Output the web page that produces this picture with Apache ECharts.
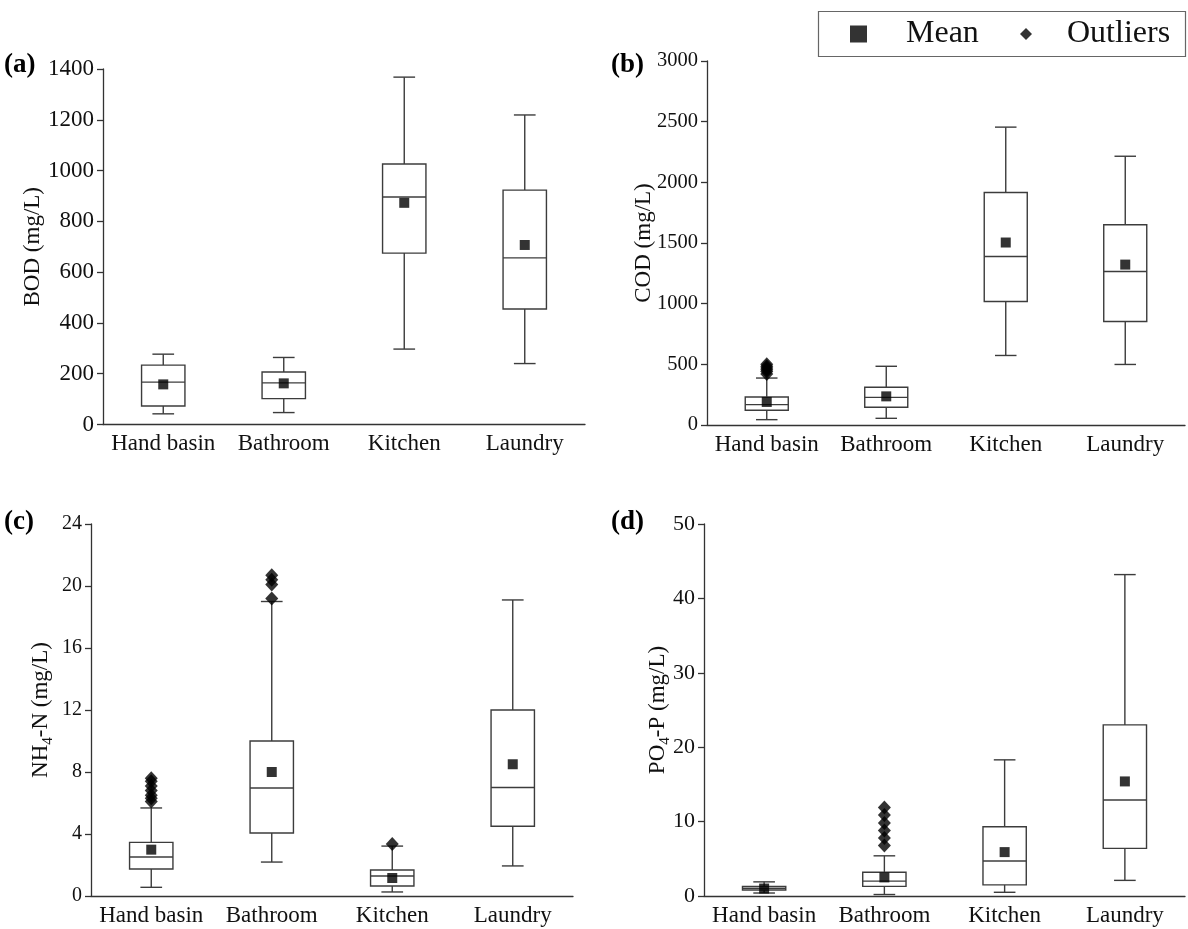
<!DOCTYPE html>
<html><head><meta charset="utf-8">
<script src="https://cdn.jsdelivr.net/npm/echarts@6/dist/echarts.min.js"></script>
<style>html,body{margin:0;padding:0;background:#fff}#c{width:1188px;height:929px}</style>
</head><body><div id="c"></div>
<script>
const categories = ['Hand basin', 'Bathroom', 'Kitchen', 'Laundry'];

// Box stats per category: [min, Q1, median, Q3, max]
const bodBox  = [[42, 73, 167, 234, 277], [47, 102, 164, 207, 264], [297, 675, 896, 1026, 1368], [240, 455, 656, 923, 1219]];
const bodMean = [158, 162, 873, 707];
const bodOut  = [[], [], [], []];

const codBox  = [[44, 121, 168, 231, 387], [55, 146, 228, 311, 484], [573, 1018, 1389, 1916, 2455], [499, 853, 1265, 1650, 2215]];
const codMean = [190, 236, 1504, 1322];
const codOut  = [[420, 440, 455, 470, 485, 500], [], [], []];

const nhBox   = [[0.56, 1.74, 2.52, 3.46, 5.68], [2.19, 4.06, 6.97, 10.0, 19.0], [0.26, 0.65, 1.29, 1.68, 3.22], [1.94, 4.5, 7.0, 12.0, 19.1]];
const nhMean  = [2.99, 8.0, 1.16, 8.5];
const nhOut   = [[6.1, 6.3, 6.5, 6.8, 7.1, 7.4, 7.6], [19.2, 20.1, 20.4, 20.7], [3.35], []];

const poBox   = [[0.4, 0.8, 1.05, 1.3, 1.9], [0.2, 1.3, 2.0, 3.2, 5.4], [0.5, 1.5, 4.7, 9.3, 18.3], [2.1, 6.4, 12.9, 23.0, 43.2]];
const poMean  = [1.0, 2.5, 5.9, 15.4];
const poOut   = [[], [6.8, 7.8, 8.8, 9.8, 10.9, 11.9], [], []];

const yMax      = [1400, 3000, 24, 50];
const yInterval = [200, 500, 4, 10];
const yNames    = ['BOD (mg/L)', 'COD (mg/L)', 'NH{s|4}-N (mg/L)', 'PO{s|4}-P (mg/L)'];
const panelTags = ['(a)', '(b)', '(c)', '(d)'];

const FONT = '"Liberation Serif", "Times New Roman", serif';
const AX = '#333';

const grids = [
  {left: 103, top: 69, width: 482, height: 355.5},
  {left: 707, top: 61, width: 478, height: 364},
  {left: 91,  top: 524, width: 482, height: 372},
  {left: 704, top: 524, width: 481, height: 372}
];
const nameGaps = [59, 52, 35, 31];
const yLabelSizes = [23, 20.5, 20, 22];
const tagPos = [{left: 4, top: 52}, {left: 611, top: 52}, {left: 4, top: 509}, {left: 611, top: 509}];

const boxes = [bodBox, codBox, nhBox, poBox];
const means = [bodMean, codMean, nhMean, poMean];
const outs  = [bodOut, codOut, nhOut, poOut];

function renderBox(params, api) {
  const x = api.value(0);
  const lo = api.coord([x, api.value(1)]);
  const q1 = api.coord([x, api.value(2)]);
  const md = api.coord([x, api.value(3)]);
  const q3 = api.coord([x, api.value(4)]);
  const hi = api.coord([x, api.value(5)]);
  const band = api.size([1, 0])[0];
  const bw = band * 0.36, cw = bw * 0.5;
  const cx = lo[0];
  const st = {stroke: '#3c3c3c', lineWidth: 1.4, fill: null};
  return {type: 'group', children: [
    {type: 'line', shape: {x1: cx, y1: hi[1], x2: cx, y2: q3[1]}, style: st},
    {type: 'line', shape: {x1: cx, y1: q1[1], x2: cx, y2: lo[1]}, style: st},
    {type: 'line', shape: {x1: cx - cw / 2, y1: hi[1], x2: cx + cw / 2, y2: hi[1]}, style: st},
    {type: 'line', shape: {x1: cx - cw / 2, y1: lo[1], x2: cx + cw / 2, y2: lo[1]}, style: st},
    {type: 'rect', shape: {x: cx - bw / 2, y: q3[1], width: bw, height: q1[1] - q3[1]}, style: {stroke: '#3c3c3c', lineWidth: 1.4, fill: '#fff'}},
    {type: 'line', shape: {x1: cx - bw / 2, y1: md[1], x2: cx + bw / 2, y2: md[1]}, style: st}
  ]};
}

const xAxis = [], yAxis = [], series = [], title = [];
for (let i = 0; i < 4; i++) {
  xAxis.push({
    type: 'category', gridIndex: i, data: categories, boundaryGap: true,
    axisLine: {lineStyle: {color: AX, width: 1.3}},
    axisTick: {alignWithLabel: true, interval: 0, length: 5, lineStyle: {color: AX, width: 1.3}},
    axisLabel: {interval: 0, color: '#111', fontFamily: FONT, fontSize: 23, margin: 8},
    splitLine: {show: false}
  });
  yAxis.push({
    type: 'value', gridIndex: i, min: 0, max: yMax[i], interval: yInterval[i],
    name: yNames[i], nameLocation: 'middle', nameGap: nameGaps[i], nameMoveOverlap: false,
    nameTextStyle: {color: '#111', fontFamily: FONT, fontSize: 23,
      rich: {s: {fontFamily: FONT, fontSize: 15, color: '#111', verticalAlign: 'bottom', lineHeight: 30}}},
    axisLine: {show: true, lineStyle: {color: AX, width: 1.3}},
    axisTick: {show: true, length: 6, lineStyle: {color: AX, width: 1.3}},
    axisLabel: {color: '#111', fontFamily: FONT, fontSize: yLabelSizes[i], margin: 9, formatter: v => String(v)},
    splitLine: {show: false}
  });
  series.push({
    type: 'custom', xAxisIndex: i, yAxisIndex: i, renderItem: renderBox,
    encode: {x: 0, y: [1, 2, 3, 4, 5]}, z: 2,
    data: boxes[i].map((b, k) => [k].concat(b))
  });
  series.push({
    name: 'Mean', type: 'scatter', xAxisIndex: i, yAxisIndex: i, symbol: 'rect', symbolSize: 10,
    itemStyle: {color: '#000'}, z: 5,
    data: means[i].map((m, k) => [k, m])
  });
  const od = [];
  outs[i].forEach((arr, k) => arr.forEach(v => od.push([k, v])));
  series.push({
    name: 'Outliers', type: 'scatter', xAxisIndex: i, yAxisIndex: i, symbol: 'diamond', symbolSize: [13, 14],
    itemStyle: {color: '#000'}, z: 4, data: od
  });
  title.push({text: panelTags[i], left: tagPos[i].left, top: tagPos[i].top, padding: 0,
    textStyle: {fontFamily: FONT, fontWeight: 'bold', fontSize: 27, color: '#000'}});
}

const chart = echarts.init(document.getElementById('c'), null, {renderer: 'canvas'});
chart.setOption({
  backgroundColor: '#fff',
  animation: false,
  title: title,
  grid: grids.map(g => Object.assign({containLabel: false}, g)),
  xAxis: xAxis,
  yAxis: yAxis,
  legend: [
    {data: [{name: 'Mean', icon: 'rect'}], left: 845, top: 13, padding: 5, itemWidth: 17, itemHeight: 17,
     selectedMode: false, textStyle: {fontFamily: FONT, fontSize: 32, color: '#111', padding: [0, 0, 0, 34]}},
    {data: [{name: 'Outliers', icon: 'diamond'}], left: 1015, top: 13, padding: 5, itemWidth: 12, itemHeight: 12,
     selectedMode: false, textStyle: {fontFamily: FONT, fontSize: 32, color: '#111', padding: [0, 0, 0, 30]}}
  ],
  graphic: [{type: 'rect', left: 816, top: 9, shape: {width: 367, height: 45}, style: {fill: null, stroke: '#666', lineWidth: 1.2}, z: 10}],
  series: series
});
</script></body></html>
